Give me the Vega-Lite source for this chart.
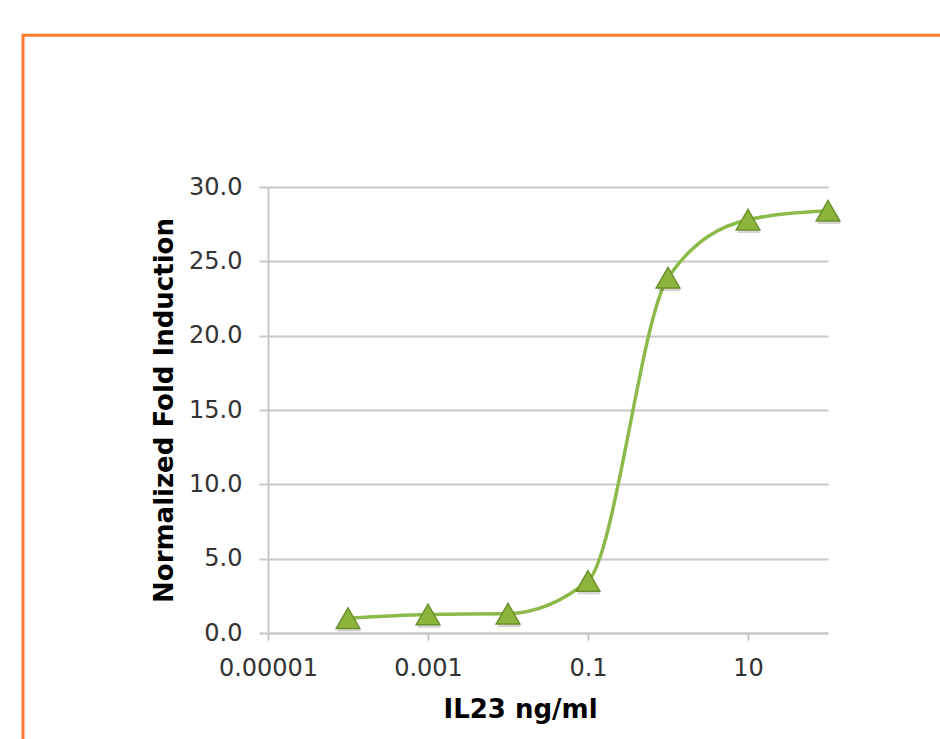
{
  "$schema": "https://vega.github.io/schema/vega-lite/v6.json",
  "width": 560,
  "height": 446,
  "autosize": {"type": "none"},
  "padding": {"left": 268, "top": 187, "right": 112, "bottom": 106},
  "background": "white",
  "config": {"view": {"stroke": null}, "font": "DejaVu Sans"},
  "data": {
    "values": [
      {"conc": 0.0001, "fold": 1.0},
      {"conc": 0.001, "fold": 1.25},
      {"conc": 0.01, "fold": 1.3},
      {"conc": 0.1, "fold": 3.5},
      {"conc": 1, "fold": 23.9},
      {"conc": 10, "fold": 27.8},
      {"conc": 100, "fold": 28.4}
    ]
  },
  "layer": [
    {
      "data": {"values": [{}]},
      "mark": {"type": "rect", "fillOpacity": 0, "stroke": "#ff7b2e", "strokeWidth": 3, "clip": false},
      "encoding": {
        "x": {"datum": 8.66e-9, "type": "quantitative", "scale": {"type": "log", "domain": [0.00001, 100]}},
        "x2": {"datum": 10000},
        "y": {"datum": 40.2, "type": "quantitative", "scale": {"domain": [0, 30], "nice": false}},
        "y2": {"datum": -12}
      }
    },
    {
      "mark": {"type": "line", "interpolate": "monotone", "color": "#8db94a", "strokeWidth": 3.5},
      "encoding": {
        "x": {
          "field": "conc",
          "type": "quantitative",
          "scale": {"type": "log", "domain": [0.00001, 100]},
          "axis": {
            "title": "IL23 ng/ml",
            "values": [0.00001, 0.001, 0.1, 10],
            "format": ".5~f",
            "grid": false,
            "domainColor": "#c8c8c8",
            "domainWidth": 2,
            "tickColor": "#c8c8c8",
            "tickWidth": 2,
            "tickSize": 7,
            "labelFont": "DejaVu Sans",
            "labelFontSize": 24,
            "labelColor": "#333333",
            "labelPadding": 16,
            "labelFlush": false,
            "titleFont": "DejaVu Sans",
            "titleFontSize": 26,
            "titleFontWeight": "bold",
            "titleColor": "#000000",
            "titlePadding": 16,
            "titleX": 252,
            "titleAnchor": "start",
            "titleAlign": "center"
          }
        },
        "y": {
          "field": "fold",
          "type": "quantitative",
          "scale": {"domain": [0, 30], "nice": false},
          "axis": {
            "title": "Normalized Fold Induction",
            "values": [0, 5, 10, 15, 20, 25, 30],
            "format": ".1f",
            "grid": true,
            "gridColor": "#c8c8c8",
            "gridWidth": 2,
            "domainColor": "#c8c8c8",
            "domainWidth": 2,
            "tickColor": "#c8c8c8",
            "tickWidth": 2,
            "tickSize": 9,
            "labelFont": "DejaVu Sans",
            "labelFontSize": 24,
            "labelColor": "#333333",
            "labelPadding": 17,
            "titleFont": "DejaVu Sans",
            "titleFontSize": 26,
            "titleFontWeight": "bold",
            "titleColor": "#000000",
            "titlePadding": 11
          }
        }
      }
    },
    {
      "mark": {"type": "point", "shape": "triangle-up", "filled": true, "size": 560, "color": "#555555", "opacity": 0.25, "yOffset": 3, "xOffset": 1},
      "encoding": {
        "x": {"field": "conc", "type": "quantitative"},
        "y": {"field": "fold", "type": "quantitative"}
      }
    },
    {
      "mark": {"type": "point", "shape": "triangle-up", "filled": true, "size": 560, "fill": "#8db53c", "stroke": "#6b8f2a", "strokeWidth": 1.5, "opacity": 1},
      "encoding": {
        "x": {"field": "conc", "type": "quantitative"},
        "y": {"field": "fold", "type": "quantitative"}
      }
    }
  ]
}
